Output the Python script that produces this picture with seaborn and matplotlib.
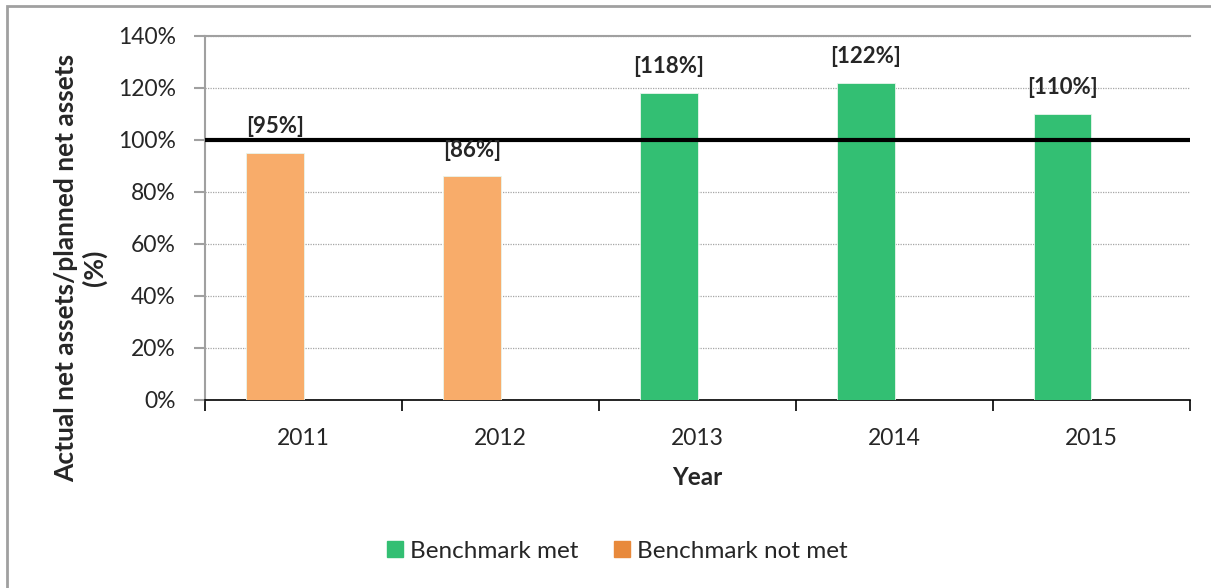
import matplotlib
matplotlib.use('Agg')
import pandas as pd
import matplotlib.pyplot as plt
import seaborn as sns
from matplotlib.lines import Line2D
from matplotlib.patches import Rectangle
from matplotlib.ticker import PercentFormatter, FixedLocator

# Dados do gráfico
anos = ['2011', '2012', '2013', '2014', '2015']
valores = [95, 86, 118, 122, 110]
status = ['Benchmark not met', 'Benchmark not met', 'Benchmark met', 'Benchmark met', 'Benchmark met']

cor_verde = '#33BF73'
cor_laranja_barra = '#F8AC6A'
cor_laranja_legenda = '#E8893B'

df = pd.DataFrame({'ano': anos, 'valor': valores, 'status': status})

sns.set_style('white')
plt.rcParams['font.family'] = ['Lato', 'DejaVu Sans']

fig = plt.figure(figsize=(12.11, 5.88), dpi=100)
ax = fig.add_axes([205 / 1211, 1 - 400 / 588, 985 / 1211, 364 / 588])

largura_barra = 0.29
ax = sns.barplot(data=df, x='ano', y='valor', hue='status', order=anos,
                 palette={'Benchmark met': cor_verde, 'Benchmark not met': cor_laranja_barra},
                 dodge=False, width=largura_barra, saturation=1, legend=False, ax=ax,
                 edgecolor='#E8F5EC', linewidth=0.6, zorder=3)

# No Excel as barras ficam no primeiro "slot" do grupo (deslocadas para a esquerda)
for p in ax.patches:
    p.set_x(p.get_x() - largura_barra / 2)

# Linha de referência 100%
ax.axhline(100, color='black', linewidth=3, zorder=4)

ax.set_ylim(0, 140)
ax.set_xlim(-0.5, 4.5)
ax.set_yticks(range(0, 141, 20))
ax.yaxis.set_major_formatter(PercentFormatter(decimals=0))
ax.yaxis.grid(True, linestyle=(0, (1, 1)), color='#A6A6A6', linewidth=0.9, zorder=0)
ax.set_axisbelow(True)

ax.spines['right'].set_visible(False)
ax.spines['top'].set_color('#A0A0A0')
ax.spines['top'].set_linewidth(1.5)
ax.spines['left'].set_color('#A0A0A0')
ax.spines['left'].set_linewidth(1.5)
ax.spines['bottom'].set_color('black')
ax.spines['bottom'].set_linewidth(1.2)

ax.tick_params(axis='y', which='major', left=True, length=8, width=1.5, color='#A0A0A0',
               labelsize=16.5, pad=13)
ax.tick_params(axis='x', which='major', bottom=False, labelsize=16.5, pad=17)
ax.xaxis.set_minor_locator(FixedLocator([-0.5, 0.5, 1.5, 2.5, 3.5, 4.5]))
ax.tick_params(axis='x', which='minor', bottom=True, length=8, width=1.2, color='black')

ax.set_xlabel('Year', fontsize=17.5, fontweight='bold', labelpad=12)
ax.set_ylabel('Actual net assets/planned net assets\n(%)', fontsize=19,
              fontweight='bold', linespacing=1.15)
ax.yaxis.set_label_coords(-0.1, 0.363)

# Rótulos nas barras
for p in ax.patches:
    altura = p.get_height()
    x = p.get_x() + p.get_width() / 2.
    ax.annotate(f'[{int(round(altura))}%]', (x, altura), xytext=(0, 19),
                textcoords='offset points', ha='center', va='center',
                fontsize=16, fontweight='bold', zorder=5)

# Legenda
handles = [Line2D([], [], marker='s', linestyle='', markersize=11, color=cor_verde),
           Line2D([], [], marker='s', linestyle='', markersize=11, color=cor_laranja_legenda)]
fig.legend(handles, ['Benchmark met', 'Benchmark not met'], loc='center',
           bbox_to_anchor=(0.508, 1 - 551 / 588), ncol=2, frameon=False,
           fontsize=17.5, handletextpad=0.1, columnspacing=1.3, handlelength=1.0)

# Moldura da figura
fig.patches.append(Rectangle((7 / 1211, -0.05), 1.05, 1 - 6 / 588 + 0.05,
                             transform=fig.transFigure, fill=False,
                             edgecolor='#A0A0A0', linewidth=2))

fig.savefig('out.png', dpi=100)
